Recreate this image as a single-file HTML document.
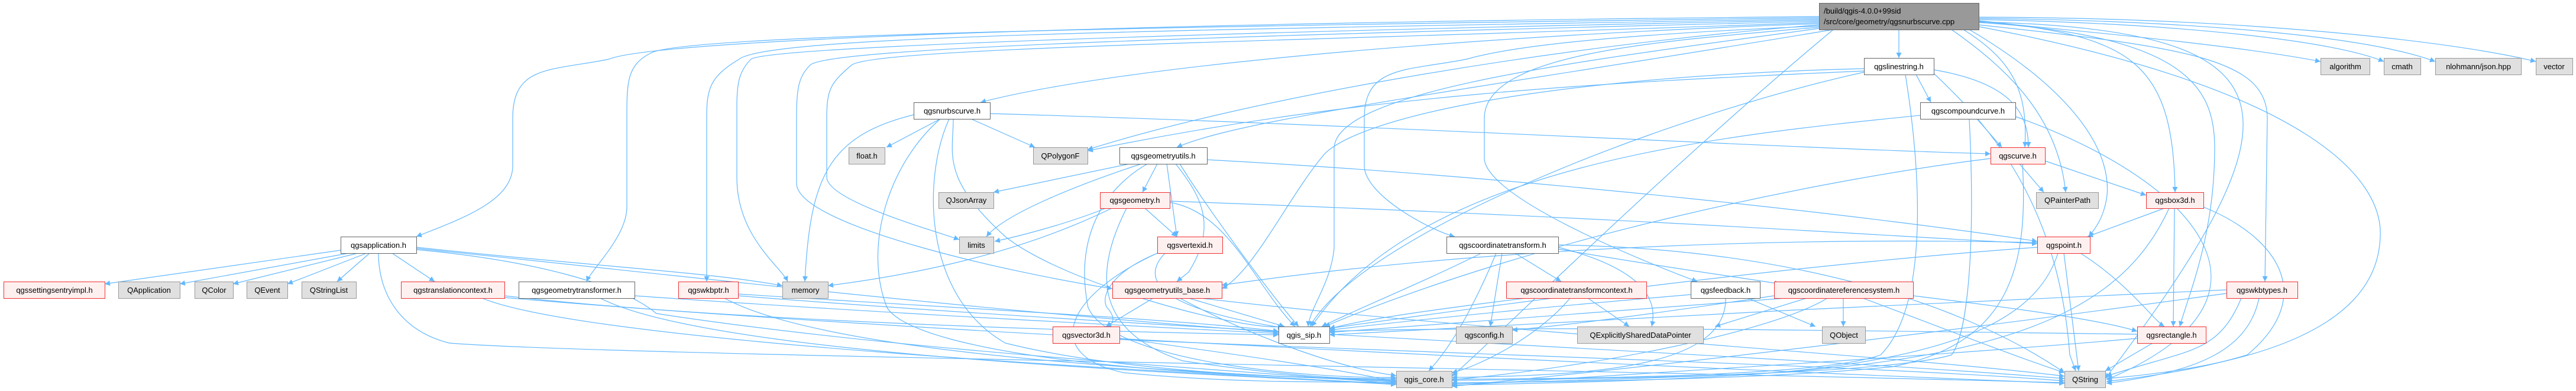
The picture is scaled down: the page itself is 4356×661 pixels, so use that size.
<!DOCTYPE html>
<html><head><meta charset="utf-8"><style>
html,body{margin:0;padding:0;background:#fff;}
svg{display:block;}
text{font-family:"Liberation Sans","DejaVu Sans",sans-serif;font-size:13px;fill:#000;}
.e{fill:none;stroke:#63b8ff;stroke-width:1.2;}
.w{fill:#fff;stroke:#666;stroke-width:1;}
.r{fill:#fff0f0;stroke:#f03030;stroke-width:1;}
.g{fill:#e0e0e0;stroke:#999;stroke-width:1;}
</style></head><body>
<svg width="4356" height="661" viewBox="0 0 4356 661" xmlns="http://www.w3.org/2000/svg">
<defs><marker id="a" viewBox="0 0 10 10" refX="10" refY="5" markerWidth="9" markerHeight="9" orient="auto" markerUnits="userSpaceOnUse"><path d="M0,0 L10,5 L0,10 z" fill="#63b8ff"/></marker></defs>
<g class="e" marker-end="url(#a)">
<!-- root edges -->
<path d="M3076,28 C1800,40 1100,70 1030,100 C930,120 867,110 867,200 L867,280 C867,340 780,370 704,400"/>
<path d="M3076,30 C1900,45 1150,60 1100,90 C1060,110 1060,140 1060,200 L1060,350 C1060,400 1000,455 992,476"/>
<path d="M3076,32 C2000,50 1300,60 1250,100 C1200,130 1195,150 1195,200 L1195,476"/>
<path d="M3076,34 C2000,55 1300,80 1270,100 C1250,120 1246,140 1246,180 L1246,300 C1246,400 1320,450 1332,476"/>
<path d="M3076,36 C2100,60 1400,80 1370,110 C1350,130 1347,150 1347,200 L1347,310 C1347,380 1700,460 1881,488"/>
<path d="M3076,38 C2200,70 1480,80 1440,110 C1405,140 1398,150 1398,200 L1398,300 C1400,340 1580,390 1622,405"/>
<path d="M3076,40 C2500,60 1900,110 1658,173"/>
<path d="M3076,42 C2600,80 2100,170 1839,253"/>
<path d="M3100,50 C2500,150 2100,200 1990,249"/>
<path d="M3076,44 C2700,60 2550,80 2480,100 C2380,120 2307,110 2307,200 L2307,280 C2307,330 2420,390 2460,400"/>
<path d="M3076,46 C2800,70 2510,90 2510,200 L2510,270 C2520,340 2800,450 2870,476"/>
<path d="M3076,48 C2700,100 2260,150 2256,250 L2256,420 C2250,480 2215,520 2212,552"/>
<path d="M3211,50 L3211,98"/>
<path d="M3320,50 C3400,100 3430,150 3424,249"/>
<path d="M3300,50 C3400,120 3480,200 3493,325"/>
<path d="M3330,50 C3500,150 3570,250 3563,330 C3558,370 3540,390 3532,400"/>
<path d="M3346,35 C3600,60 3675,100 3678,325"/>
<path d="M3346,38 C3700,60 3745,150 3745,250 C3745,400 3700,500 3686,552"/>
<path d="M3346,42 C3700,80 3834,100 3834,200 L3830,476"/>
<path d="M3346,45 C3900,150 4030,300 4025,400 C4020,560 3800,620 3562,640"/>
<path d="M3346,37 C3900,50 3900,190 3560,640"/>
<path d="M3346,36 C3600,60 3800,80 3924,104"/>
<path d="M3346,33 C3700,40 3950,70 4031,104"/>
<path d="M3346,31 C3700,35 4000,60 4118,104"/>
<path d="M3346,29 C3800,30 4150,70 4288,104"/>
<path d="M3100,50 C2800,300 2500,600 2455,636"/>
<!-- qgslinestring -->
<path d="M3240,126 L3265,173"/>
<path d="M3270,118 C3400,140 3430,190 3430,249"/>
<path d="M3152,120 C2700,140 2300,160 1839,255"/>
<path d="M3152,122 C2800,200 2300,400 2215,552"/>
<path d="M3152,116 C2600,130 2300,200 2240,260 C2180,330 2120,460 2066,488"/>
<path d="M3222,126 C3250,300 3260,520 3180,600 C3100,630 2800,640 2455,641"/>
<path d="M3270,124 C3350,200 3480,330 3500,600 L3510,627"/>
<!-- qgscompoundcurve -->
<path d="M3343,201 L3385,249"/>
<path d="M3247,195 C2900,230 2400,280 2218,552"/>
<path d="M3330,201 C3340,400 3330,560 3300,600 C3200,630 2800,640 2455,643"/>
<path d="M3408,197 C3700,300 3900,500 3562,642"/>
<!-- qgsnurbscurve -->
<path d="M1590,201 L1499,249"/>
<path d="M1642,201 L1750,249"/>
<path d="M1545,194 C1400,230 1370,300 1361,476"/>
<path d="M1674,192 C2300,210 3000,250 3366,260"/>
<path d="M1590,201 C1500,280 1460,420 1500,520 C1550,600 2000,640 2361,640"/>
<path d="M1605,201 C1560,300 1560,500 1700,580 C1900,630 2200,640 2361,642"/>
<path d="M1612,201 C1612,260 1590,300 1700,400 C1800,480 2100,560 2170,552"/>
<!-- qgsgeometryutils -->
<path d="M1910,277 L1680,325"/>
<path d="M1957,277 L1932,325"/>
<path d="M1973,277 L1990,400"/>
<path d="M1930,277 C1830,310 1700,360 1668,400"/>
<path d="M1988,277 C2030,330 2060,380 2010,460 L1990,476"/>
<path d="M1995,277 C2040,350 2150,500 2196,552"/>
<path d="M1940,277 C1850,330 1820,420 1840,520 C1880,610 2200,640 2361,638"/>
<path d="M2041,270 C2600,300 3200,370 3445,408"/>
<!-- qgsgeometry -->
<path d="M1870,352 C1800,380 1720,400 1682,408"/>
<path d="M1880,352 C1700,440 1500,470 1400,483"/>
<path d="M1936,352 L1990,400"/>
<path d="M1978,342 C2080,360 2120,480 2190,552"/>
<path d="M1905,352 C1850,460 1850,560 2000,610 C2200,640 2300,640 2361,644"/>
<path d="M1978,340 C2800,370 3200,400 3445,412"/>
<!-- qgsvertexid -->
<path d="M1957,428 C1880,460 1860,500 1872,520 C1890,540 1880,550 1870,552"/>
<path d="M1957,428 C1800,500 1760,600 1900,630 C2100,650 2300,645 2361,646"/>
<path d="M1970,428 C1930,470 1950,520 2170,554"/>
<!-- qgsgeometryutils_base -->
<path d="M1950,504 L1870,552"/>
<path d="M2010,504 L2172,552"/>
<path d="M1995,504 C2100,560 2250,620 2361,635"/>
<path d="M2030,504 C2500,560 3200,600 3491,636"/>
<!-- qgsvector3d -->
<path d="M1880,570 C2100,600 2300,630 2361,646"/>
<path d="M1893,574 C2500,600 3200,620 3491,644"/>
<!-- qgswkbptr -->
<path d="M1248,497 C1600,520 2000,540 2162,560"/>
<path d="M1225,504 C1400,600 2000,630 2361,645"/>
<path d="M1248,500 C2000,560 3000,600 3491,640"/>
<!-- qgsapplication -->
<path d="M576,423 L177,480"/>
<path d="M590,428 L304,480"/>
<path d="M605,428 L394,480"/>
<path d="M620,428 L486,480"/>
<path d="M625,428 L570,476"/>
<path d="M663,428 L735,476"/>
<path d="M704,418 C1000,450 1200,460 1323,483"/>
<path d="M704,420 C1100,460 1600,520 2162,562"/>
<path d="M704,422 C900,440 1050,480 1110,530 C1500,590 2000,620 2361,648"/>
<path d="M640,428 C640,500 680,560 760,580 C1000,600 2500,620 3491,647"/>
<!-- qgstranslationcontext -->
<path d="M853,500 C1200,540 1800,560 2162,566"/>
<path d="M815,504 C1000,580 2000,630 2361,649"/>
<path d="M853,503 C1500,560 2800,620 3491,648"/>
<!-- qgsgeometrytransformer -->
<path d="M1073,500 C1500,530 1900,550 2162,564"/>
<path d="M1015,504 C1200,600 2000,630 2361,650"/>
<!-- qgscoordinatetransform -->
<path d="M2562,428 L2640,476"/>
<path d="M2635,418 C2800,460 2800,520 2793,552"/>
<path d="M2635,421 C2800,450 2950,470 3010,480"/>
<path d="M2505,428 C2400,480 2300,520 2235,552"/>
<path d="M2530,428 C2500,500 2460,580 2416,627"/>
<path d="M2540,428 L2520,552"/>
<path d="M2635,414 C3000,420 3300,500 3491,630"/>
<!-- qgscoordinatetransformcontext -->
<path d="M2580,504 C2450,520 2300,540 2248,556"/>
<path d="M2655,504 C2600,570 2500,620 2455,630"/>
<path d="M2685,504 L2755,552"/>
<!-- qgsfeedback -->
<path d="M2859,498 C2600,520 2400,540 2248,558"/>
<path d="M2955,504 L3070,552"/>
<path d="M2918,504 C2920,620 2700,635 2455,638"/>
<!-- qgscoordinatereferencesystem -->
<path d="M3117,504 L3117,552"/>
<path d="M3055,504 L2900,552"/>
<path d="M3000,500 C2800,530 2650,550 2557,558"/>
<path d="M3020,504 C2700,530 2400,550 2248,562"/>
<path d="M3090,504 C3000,560 2700,620 2455,642"/>
<path d="M3150,504 C3300,560 3400,600 3491,630"/>
<path d="M3235,500 C3400,520 3550,540 3614,560"/>
<!-- qgscurve -->
<path d="M3415,277 L3456,325"/>
<path d="M3458,272 L3629,330"/>
<path d="M3366,268 C3100,300 2600,400 2240,552"/>
<path d="M3420,277 C3430,450 3400,580 3200,620 C3000,640 2700,645 2455,647"/>
<!-- qgsbox3d -->
<path d="M3660,352 L3530,400"/>
<path d="M3677,352 L3675,552"/>
<path d="M3668,352 C3600,500 3450,600 3000,630 C2800,640 2600,645 2455,649"/>
<path d="M3726,350 C3850,400 3920,500 3800,600 C3700,630 3600,640 3562,645"/>
<!-- qgspoint -->
<path d="M3518,428 C3600,480 3640,540 3660,552"/>
<path d="M3490,428 L3515,627"/>
<path d="M3480,428 C3450,520 3350,600 3000,630 C2800,645 2600,648 2455,651"/>
<path d="M3445,410 C3000,400 2500,420 2066,482"/>
<path d="M3445,418 C3000,450 2500,520 2248,555"/>
<!-- qgsrectangle -->
<path d="M3640,580 L3560,627"/>
<path d="M3614,572 C3300,600 2800,630 2455,652"/>
<path d="M3614,565 C3200,560 2600,550 2248,560"/>
<!-- qgswkbtypes -->
<path d="M3765,490 C3300,510 2700,540 2248,566"/>
<path d="M3765,496 C3300,560 2800,620 2455,653"/>
<path d="M3820,504 C3800,600 3700,630 3562,648"/>
<path d="M3790,504 C3750,600 3700,590 3562,636"/>
</g>
<!-- nodes -->
<rect class="g" x="3076.5" y="5.5" width="270" height="45" style="fill:#999;stroke:#666"/>
<text x="3084" y="23">/build/qgis-4.0.0+99sid</text>
<text x="3084" y="41">/src/core/geometry/qgsnurbscurve.cpp</text>

<rect class="w" x="3152.5" y="98.5" width="118" height="28"/><text x="3211" y="117" text-anchor="middle">qgslinestring.h</text>
<rect class="g" x="3924.5" y="98.5" width="83" height="28"/><text x="3966" y="117" text-anchor="middle">algorithm</text>
<rect class="g" x="4031.5" y="98.5" width="62" height="28"/><text x="4062" y="117" text-anchor="middle">cmath</text>
<rect class="g" x="4118.5" y="98.5" width="145" height="28"/><text x="4191" y="117" text-anchor="middle">nlohmann/json.hpp</text>
<rect class="g" x="4288.5" y="98.5" width="62" height="28"/><text x="4319" y="117" text-anchor="middle">vector</text>

<rect class="w" x="1545.5" y="173.5" width="129" height="28"/><text x="1610" y="192" text-anchor="middle">qgsnurbscurve.h</text>
<rect class="w" x="3247.5" y="173.5" width="161" height="28"/><text x="3328" y="192" text-anchor="middle">qgscompoundcurve.h</text>

<rect class="g" x="1435.5" y="249.5" width="61" height="28"/><text x="1466" y="268" text-anchor="middle">float.h</text>
<rect class="g" x="1747.5" y="249.5" width="92" height="28"/><text x="1793" y="268" text-anchor="middle">QPolygonF</text>
<rect class="w" x="1893.5" y="249.5" width="148" height="28"/><text x="1967" y="268" text-anchor="middle">qgsgeometryutils.h</text>
<rect class="r" x="3366.5" y="249.5" width="92" height="28"/><text x="3412" y="268" text-anchor="middle">qgscurve.h</text>

<rect class="g" x="1587.5" y="325.5" width="93" height="27"/><text x="1634" y="343" text-anchor="middle">QJsonArray</text>
<rect class="r" x="1860.5" y="325.5" width="118" height="27"/><text x="1919" y="343" text-anchor="middle">qgsgeometry.h</text>
<rect class="g" x="3443.5" y="325.5" width="105" height="27"/><text x="3496" y="343" text-anchor="middle">QPainterPath</text>
<rect class="r" x="3629.5" y="325.5" width="97" height="27"/><text x="3678" y="343" text-anchor="middle">qgsbox3d.h</text>

<rect class="w" x="576.5" y="400.5" width="128" height="28"/><text x="640" y="419" text-anchor="middle">qgsapplication.h</text>
<rect class="g" x="1622.5" y="400.5" width="58" height="28"/><text x="1651" y="419" text-anchor="middle">limits</text>
<rect class="r" x="1957.5" y="400.5" width="110" height="28"/><text x="2012" y="419" text-anchor="middle">qgsvertexid.h</text>
<rect class="w" x="2446.5" y="400.5" width="189" height="28"/><text x="2541" y="419" text-anchor="middle">qgscoordinatetransform.h</text>
<rect class="r" x="3445.5" y="400.5" width="89" height="28"/><text x="3490" y="419" text-anchor="middle">qgspoint.h</text>

<rect class="r" x="6.5" y="476.5" width="171" height="28"/><text x="92" y="495" text-anchor="middle">qgssettingsentryimpl.h</text>
<rect class="g" x="200.5" y="476.5" width="104" height="28"/><text x="252" y="495" text-anchor="middle">QApplication</text>
<rect class="g" x="329.5" y="476.5" width="65" height="28"/><text x="362" y="495" text-anchor="middle">QColor</text>
<rect class="g" x="417.5" y="476.5" width="69" height="28"/><text x="452" y="495" text-anchor="middle">QEvent</text>
<rect class="g" x="510.5" y="476.5" width="92" height="28"/><text x="556" y="495" text-anchor="middle">QStringList</text>
<rect class="r" x="678.5" y="476.5" width="175" height="28"/><text x="766" y="495" text-anchor="middle">qgstranslationcontext.h</text>
<rect class="w" x="877.5" y="476.5" width="196" height="28"/><text x="975" y="495" text-anchor="middle">qgsgeometrytransformer.h</text>
<rect class="r" x="1147.5" y="476.5" width="101" height="28"/><text x="1198" y="495" text-anchor="middle">qgswkbptr.h</text>
<rect class="g" x="1323.5" y="476.5" width="77" height="28"/><text x="1362" y="495" text-anchor="middle">memory</text>
<rect class="r" x="1881.5" y="476.5" width="185" height="28"/><text x="1974" y="495" text-anchor="middle">qgsgeometryutils_base.h</text>
<rect class="r" x="2547.5" y="476.5" width="237" height="28"/><text x="2666" y="495" text-anchor="middle">qgscoordinatetransformcontext.h</text>
<rect class="w" x="2859.5" y="476.5" width="117" height="28"/><text x="2918" y="495" text-anchor="middle">qgsfeedback.h</text>
<rect class="r" x="3000.5" y="476.5" width="235" height="28"/><text x="3118" y="495" text-anchor="middle">qgscoordinatereferencesystem.h</text>
<rect class="r" x="3765.5" y="476.5" width="120" height="28"/><text x="3825" y="495" text-anchor="middle">qgswkbtypes.h</text>

<rect class="r" x="1780.5" y="552.5" width="113" height="28"/><text x="1837" y="571" text-anchor="middle">qgsvector3d.h</text>
<rect class="w" x="2162.5" y="552.5" width="86" height="28"/><text x="2205" y="571" text-anchor="middle">qgis_sip.h</text>
<rect class="g" x="2462.5" y="552.5" width="95" height="28"/><text x="2510" y="571" text-anchor="middle">qgsconfig.h</text>
<rect class="g" x="2667.5" y="552.5" width="213" height="28"/><text x="2774" y="571" text-anchor="middle">QExplicitlySharedDataPointer</text>
<rect class="g" x="3081.5" y="552.5" width="73" height="28"/><text x="3118" y="571" text-anchor="middle">QObject</text>
<rect class="r" x="3614.5" y="552.5" width="116" height="28"/><text x="3672" y="571" text-anchor="middle">qgsrectangle.h</text>

<rect class="g" x="2361.5" y="627.5" width="94" height="28"/><text x="2408" y="646" text-anchor="middle">qgis_core.h</text>
<rect class="g" x="3491.5" y="627.5" width="69" height="28"/><text x="3526" y="646" text-anchor="middle">QString</text>
</svg>
</body></html>
